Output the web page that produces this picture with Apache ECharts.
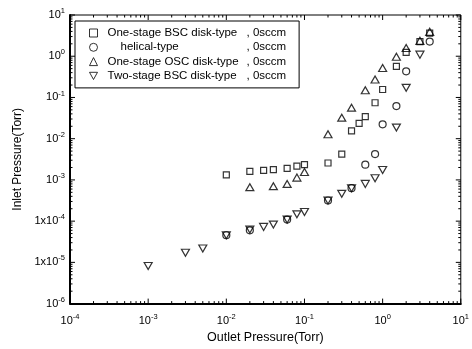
<!DOCTYPE html>
<html><head><meta charset="utf-8">
<script src="https://cdn.jsdelivr.net/npm/echarts@6/dist/echarts.min.js"></script>
<style>html,body{margin:0;padding:0;background:#fff}#c{width:472px;height:349px}</style>
</head><body><div id="c"></div>
<script>
const seriesNames = ['One-stage BSC disk-type', 'helical-type', 'One-stage OSC disk-type', 'Two-stage BSC disk-type'];
const flowLabel = ', 0sccm';

const outletBSC = [0.01,0.02,0.03,0.04,0.06,0.08,0.1,0.2,0.3,0.4,0.5,0.6,0.8,1,1.5,2,3,4];
const inletBSC  = [1.32e-3,1.62e-3,1.71e-3,1.77e-3,1.91e-3,2.17e-3,2.34e-3,2.57e-3,4.24e-3,0.0154,0.0236,0.0343,0.0745,0.156,0.568,1.24,2.27,3.62];

const outletHelical = [0.01,0.02,0.06,0.2,0.4,0.6,0.8,1,1.5,2,4];
const inletHelical  = [4.55e-5,6.0e-5,1.09e-4,3.17e-4,6.3e-4,2.34e-3,4.24e-3,0.0223,0.0617,0.43,2.27];

const outletOSC = [0.02,0.04,0.06,0.08,0.1,0.2,0.3,0.4,0.6,0.8,1,1.5,2,3,4];
const inletOSC  = [6.67e-4,7.05e-4,8.0e-4,1.14e-3,1.56e-3,0.0128,0.0324,0.0565,0.15,0.272,0.52,0.97,1.58,2.36,3.9];

const outletTwo = [0.001,0.003,0.005,0.01,0.02,0.03,0.04,0.06,0.08,0.1,0.2,0.3,0.4,0.6,0.8,1,1.5,2,3];
const inletTwo  = [8.15e-6,1.71e-5,2.17e-5,4.55e-5,6.24e-5,7.24e-5,8.24e-5,1.09e-4,1.46e-4,1.67e-4,3.17e-4,4.6e-4,6.3e-4,8.0e-4,1.1e-3,1.74e-3,0.0186,0.171,1.09];

const xRange = [1e-4, 10];
const yRange = [1e-6, 10];
const yPrefixed = [-4, -5];   // exponents shown as "1x10^n"
const minorMultipliers = [2,3,4,5,6,7,8,9];

const FONT = 'Liberation Sans';
const downTri = 'path://M0,0 L10,0 L5,9 Z';
const symbols = ['rect', 'circle', 'triangle', downTri];
const sizes = [6, 7, [8,7], [8,7]];

function pair(xs, ys) { return xs.map((x, i) => [x, ys[i]]); }
const dataSets = [pair(outletBSC, inletBSC), pair(outletHelical, inletHelical), pair(outletOSC, inletOSC), pair(outletTwo, inletTwo)];

function expOf(v) { return Math.round(Math.log10(v)); }
function supLabel(v, allowPrefix) {
  const e = expOf(v);
  const base = (allowPrefix && yPrefixed.indexOf(e) >= 0) ? '1x10' : '10';
  return '{b|' + base + '}{s|' + (e < 0 ? '-' + (-e) : e) + '}';
}
const labelRich = {
  b: { fontFamily: FONT, fontSize: 11, color: '#000' },
  s: { fontFamily: FONT, fontSize: 7.5, color: '#000', padding: [0, 0, 8, 0] }
};

function tickValues(range) {
  const lo = Math.round(Math.log10(range[0])), hi = Math.round(Math.log10(range[1]));
  const major = [], minor = [];
  for (let e = lo; e <= hi; e++) {
    major.push(Math.pow(10, e));
    if (e < hi) minorMultipliers.forEach(m => minor.push(m * Math.pow(10, e)));
  }
  return { major, minor };
}
const xt = tickValues(xRange), yt = tickValues(yRange);

function renderTicks(params, api) {
  const children = [];
  const st = { stroke: '#000', lineWidth: 1 };
  const bottom = api.coord([xRange[0], yRange[0]])[1];
  const top = api.coord([xRange[0], yRange[1]])[1];
  const left = api.coord([xRange[0], yRange[0]])[0];
  const right = api.coord([xRange[1], yRange[0]])[0];
  function addX(v, len) {
    const x = api.coord([v, yRange[0]])[0];
    children.push({ type: 'line', shape: { x1: x, y1: bottom, x2: x, y2: bottom - len }, style: st });
    children.push({ type: 'line', shape: { x1: x, y1: top, x2: x, y2: top + len }, style: st });
  }
  function addY(v, len) {
    const y = api.coord([xRange[0], v])[1];
    children.push({ type: 'line', shape: { x1: left, y1: y, x2: left + len, y2: y }, style: st });
    children.push({ type: 'line', shape: { x1: right, y1: y, x2: right - len, y2: y }, style: st });
  }
  xt.major.forEach(v => addX(v, 5)); xt.minor.forEach(v => addX(v, 2.5));
  yt.major.forEach(v => addY(v, 5)); yt.minor.forEach(v => addY(v, 2.5));
  return { type: 'group', children };
}

const chart = echarts.init(document.getElementById('c'), null, { renderer: 'canvas' });
chart.setOption({
  animation: false,
  backgroundColor: '#fff',
  grid: { left: 70, right: 9, top: 15, bottom: 43, show: true, borderColor: '#000', borderWidth: 1, backgroundColor: 'transparent' },
  xAxis: {
    type: 'log', logBase: 10, min: xRange[0], max: xRange[1], interval: 1,
    name: 'Outlet Pressure(Torr)', nameLocation: 'middle', nameGap: 17,
    nameTextStyle: { fontFamily: FONT, fontSize: 12.5, color: '#000' },
    axisLine: { show: true, onZero: false, lineStyle: { color: '#000', width: 2 } },
    axisTick: { show: false }, splitLine: { show: false },
    axisLabel: { margin: 9, formatter: v => supLabel(v, false), rich: labelRich }
  },
  yAxis: {
    type: 'log', logBase: 10, min: yRange[0], max: yRange[1], interval: 1,
    name: 'Inlet Pressure(Torr)', nameLocation: 'middle', nameGap: 46,
    nameTextStyle: { fontFamily: FONT, fontSize: 12, color: '#000' },
    axisLine: { show: true, onZero: false, lineStyle: { color: '#000', width: 2 } },
    axisTick: { show: false }, splitLine: { show: false },
    axisLabel: { margin: 5, formatter: v => supLabel(v, true), rich: labelRich }
  },
  legend: {
    left: 75, top: 21, orient: 'vertical',
    borderColor: '#000', borderWidth: 1, padding: [6, 13, 6, 14],
    itemWidth: 8, itemHeight: 8, itemGap: 2.3,
    selectedMode: false,
    data: seriesNames.map((n, i) => ({ name: n, icon: symbols[i],
      itemStyle: { color: 'transparent', borderColor: '#000', borderWidth: 1 } })),
    formatter: name => (name === 'helical-type' ? '{h|' + name + '}' : '{a|' + name + '}') + '{u|' + flowLabel + '}',
    textStyle: {
      padding: [0, 0, 0, 5],
      rich: {
        a: { fontFamily: FONT, fontSize: 11.5, color: '#000', width: 139, lineHeight: 12 },
        h: { fontFamily: FONT, fontSize: 11.5, color: '#000', width: 126, padding: [0, 0, 0, 13], lineHeight: 12 },
        u: { fontFamily: FONT, fontSize: 11.5, color: '#000', lineHeight: 12 }
      }
    }
  },
  series: seriesNames.map((n, i) => ({
    name: n, type: 'scatter', data: dataSets[i], symbol: symbols[i], symbolSize: sizes[i],
    itemStyle: { color: 'transparent', borderColor: '#000', borderWidth: 1.2 },
    z: 3
  })).concat([{
    type: 'custom', name: 'ticks', silent: true, data: [[1, 1]], renderItem: renderTicks, z: 2
  }])
});
</script></body></html>
